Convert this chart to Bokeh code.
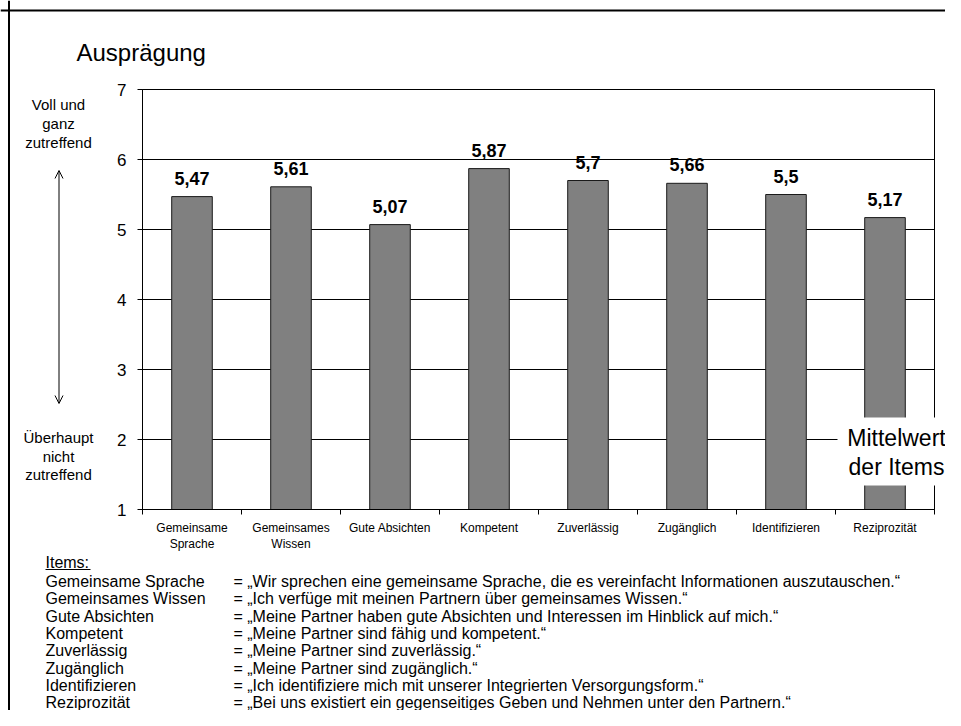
from bokeh.plotting import figure
from bokeh.models import (Range1d, FixedTicker, Label, LabelSet, Arrow, OpenHead,
                          ColumnDataSource, BoxAnnotation, Span)
from bokeh.core.properties import value
from bokeh.embed import file_html
from bokeh.resources import INLINE

# ---------------- data ----------------
categories = ["Gemeinsame\nSprache", "Gemeinsames\nWissen", "Gute Absichten", "Kompetent",
              "Zuverlässig", "Zugänglich", "Identifizieren", "Reziprozität"]
means = [5.47, 5.61, 5.07, 5.87, 5.70, 5.66, 5.50, 5.17]
y_ticks = [1, 2, 3, 4, 5, 6, 7]

item_names = ["Gemeinsame Sprache", "Gemeinsames Wissen", "Gute Absichten", "Kompetent",
              "Zuverlässig", "Zugänglich", "Identifizieren", "Reziprozität"]
item_texts = [
    "= „Wir sprechen eine gemeinsame Sprache, die es vereinfacht Informationen auszutauschen.“",
    "= „Ich verfüge mit meinen Partnern über gemeinsames Wissen.“",
    "= „Meine Partner haben gute Absichten und Interessen im Hinblick auf mich.“",
    "= „Meine Partner sind fähig und kompetent.“",
    "= „Meine Partner sind zuverlässig.“",
    "= „Meine Partner sind zugänglich.“",
    "= „Ich identifiziere mich mit unserer Integrierten Versorgungsform.“",
    "= „Bei uns existiert ein gegenseitiges Geben und Nehmen unter den Partnern.“",
]

FONT = "Liberation Sans"

n = len(categories)
centers = [i + 0.5 for i in range(n)]
bounds = list(range(n + 1))
ymin, ymax = y_ticks[0], y_ticks[-1]

# ---------------- layout geometry (pixels) ----------------
W, H = 945, 710
X0_PX = 142                # px where x=0 lies
UX = 99                    # px per category
YTOP_PX = 89               # px (from top) where y=ymax lies
UY = 70                    # px per unit on y

x_start = -X0_PX / UX
x_end = (W - X0_PX) / UX
y_end = ymax + YTOP_PX / UY
y_start = y_end - H / UY

p = figure(width=W, height=H, x_range=Range1d(x_start, x_end), y_range=Range1d(y_start, y_end),
           output_backend="svg", toolbar_location=None, title=None,
           min_border=0, min_border_left=0, min_border_right=0,
           min_border_top=0, min_border_bottom=0,
           background_fill_color="white", border_fill_color="white")
p.outline_line_color = None

def dx(X):  # pixel x -> data x
    return x_start + X / UX
def dy(Y):  # pixel y (from top) -> data y
    return y_end - Y / UY

# ---------------- grid ----------------
p.xgrid.visible = False
p.ygrid.ticker = FixedTicker(ticks=y_ticks)
p.ygrid.grid_line_color = "black"
p.ygrid.grid_line_width = 1
try:
    p.ygrid.cross_bounds = (0, n)
except Exception:
    p.ygrid.visible = False
    p.segment(x0=[0] * len(y_ticks), x1=[n] * len(y_ticks), y0=y_ticks, y1=y_ticks,
              line_color="black", line_width=1)

# plot box
p.quad(left=[0], right=[n], bottom=[ymin], top=[ymax], fill_color=None,
       line_color="black", line_width=1)

# ---------------- bars ----------------
src = ColumnDataSource(dict(x=centers, top=means,
                            lbl=[("%g" % v).replace(".", ",") for v in means]))
p.vbar(x="x", top="top", bottom=ymin, width=0.41, source=src,
       fill_color="#808080", line_color="#1a1a1a", line_width=1)
p.add_layout(LabelSet(x="x", y="top", text="lbl", source=src, y_offset=12,
                      text_align="center", text_baseline="alphabetic",
                      text_font=value(FONT), text_font_size="18px",
                      text_font_style="bold", text_color="black"))

# ---------------- x axis ----------------
xa = p.xaxis[0]
xa.fixed_location = ymin
xa.bounds = (0, n)
xa.ticker = FixedTicker(ticks=centers, minor_ticks=bounds)
xa.major_label_overrides = {c: lab for c, lab in zip(centers, categories)}
xa.major_tick_line_color = None
xa.major_tick_out = 0
xa.major_tick_in = 0
xa.minor_tick_out = 5
xa.minor_tick_in = 0
xa.minor_tick_line_color = "black"
xa.axis_line_color = "black"
xa.major_label_standoff = 6
xa.major_label_text_font = FONT
xa.major_label_text_font_size = "12px"
xa.major_label_text_color = "black"
xa.major_label_text_line_height = 1.2

# ---------------- y axis ----------------
ya = p.yaxis[0]
ya.fixed_location = 0
ya.bounds = (ymin, ymax)
ya.ticker = FixedTicker(ticks=y_ticks)
ya.minor_tick_line_color = None
ya.major_tick_out = 5
ya.major_tick_in = 0
ya.major_tick_line_color = "black"
ya.axis_line_color = "black"
ya.major_label_standoff = 11
ya.major_label_text_font = FONT
ya.major_label_text_font_size = "17px"
ya.major_label_text_color = "black"

def lab(text, X, Y, size="16px", align="left", style="normal"):
    p.add_layout(Label(x=dx(X), y=dy(Y), text=text, text_font=FONT, text_font_size=size,
                       text_align=align, text_baseline="alphabetic", text_font_style=style,
                       text_color="black"))

# title
lab("Ausprägung", 76, 52, size="24px")

# left scale annotation
for t, Y in zip(["Voll und", "ganz", "zutreffend"], [104, 123, 142]):
    lab(t, 58, Y, size="15px", align="center")
for t, Y in zip(["Überhaupt", "nicht", "zutreffend"], [437, 455.5, 474]):
    lab(t, 58, Y, size="15px", align="center")
p.add_layout(Arrow(x_start=dx(58.5), y_start=dy(403), x_end=dx(58.5), y_end=dy(170),
                   line_color="black", line_width=1,
                   start=OpenHead(size=8, line_color="black", line_width=1),
                   end=OpenHead(size=8, line_color="black", line_width=1)))

# "Mittelwert der Items" box
p.add_layout(BoxAnnotation(left=dx(837), right=dx(937), bottom=dy(485), top=dy(417),
                           fill_color="white", fill_alpha=1, line_color=None))
lab("Mittelwert", 896, 437.5, size="23px", align="center")
lab("der Items", 896, 466.5, size="23px", align="center")

# items legend
lab("Items:", 45, 562)
p.add_layout(Arrow(x_start=dx(45), y_start=dy(569), x_end=dx(90), y_end=dy(569),
                   line_color="black", line_width=1, start=None, end=None))
for i, (nm, tx) in enumerate(zip(item_names, item_texts)):
    Y = 581 + i * 17.3
    lab(nm, 45, Y)
    lab(tx, 233, Y)

# outer frame (top and left edges)
p.add_layout(Span(location=dy(10), dimension="width", line_color="black", line_width=2))
p.add_layout(Span(location=dx(8.5), dimension="height", line_color="black", line_width=2))

open("out.html", "w").write(file_html(p, INLINE))
